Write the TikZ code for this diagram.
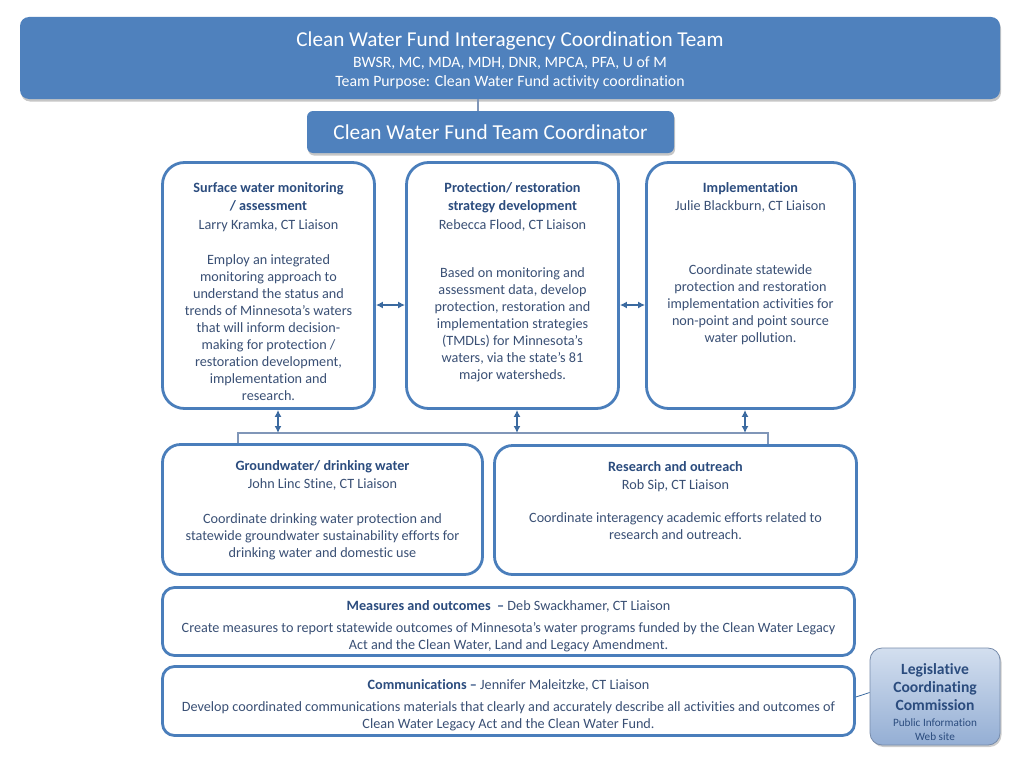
\documentclass[tikz,border=0pt]{standalone}
\usepackage{fontspec}
\setmainfont{Carlito}[Ligatures=NoCommon]
\usetikzlibrary{shadows,arrows.meta}
\definecolor{cwblue}{HTML}{4F81BD}
\definecolor{edgeblue}{HTML}{4A7EBB}
\definecolor{headblue}{HTML}{2B4C7E}
\definecolor{bodyblue}{HTML}{3A5075}
\definecolor{arrowblue}{HTML}{3B6AA0}
\definecolor{linkgray}{HTML}{8096B8}
\definecolor{lcctop}{HTML}{D3DFEF}
\definecolor{lccbot}{HTML}{94AED4}
\newcommand{\paneltitle}[1]{\textcolor{headblue}{\bfseries #1}}
\begin{document}
\begin{tikzpicture}[x=1pt,y=-1pt,
    panel/.style={draw=edgeblue,line width=2.8pt,fill=white,rounded corners=22pt,inner sep=0pt},
    paneltext/.style={anchor=north,align=center,inner sep=0pt,text=bodyblue,font=\fontsize{14.2}{17}\selectfont},
    banner/.style={fill=cwblue,rounded corners=9pt,text=white,align=center,inner sep=0pt,
        drop shadow={shadow xshift=1pt,shadow yshift=-2.5pt,opacity=0.45}},
    twoway/.style={{Latex[length=7pt,width=7pt]}-{Latex[length=7pt,width=7pt]},line width=1.5pt,draw=arrowblue},
    link/.style={draw=linkgray,line width=1.1pt}]

    \useasboundingbox (0,0) rectangle (1024,768);

    \node[banner,minimum width=980,minimum height=82,font=\fontsize{15.8}{19.5}\selectfont] (team) at (510,58)
        {\rule{0pt}{20.5pt}{\fontsize{21.2}{24}\selectfont Clean Water Fund Interagency Coordination Team}\\[1pt]
         BWSR, MC, MDA, MDH, DNR, MPCA, PFA, U of M\\
         Team Purpose: Clean Water Fund activity coordination};
    \node[banner,minimum width=367,minimum height=42,rounded corners=6pt,font=\fontsize{21.3}{24}\selectfont] (coord) at (490.5,132)
        {Clean Water Fund Team Coordinator};

    \node[panel,minimum width=212,minimum height=246] (surf) at (268.5,285.5) {};
    \node[panel,minimum width=212,minimum height=246] (prot) at (512.5,285.5) {};
    \node[panel,minimum width=208,minimum height=246] (impl) at (750.5,285.5) {};
    \node[panel,minimum width=320,minimum height=130,rounded corners=18pt] (ground) at (322.5,509.5) {};
    \node[panel,minimum width=362,minimum height=129,rounded corners=18pt] (research) at (675.5,510) {};
    \node[panel,minimum width=692,minimum height=68,rounded corners=12pt] (measures) at (508.5,621.5) {};
    \node[panel,minimum width=692,minimum height=69,rounded corners=12pt] (comm) at (508.5,701) {};

    \node[paneltext] (surftxt) at ([yshift=-21pt]surf.north)
        {\paneltitle{Surface water monitoring}\\[1.5pt] \paneltitle{/ assessment}\\[1.5pt] Larry Kramka, CT Liaison\\[18pt]
         Employ an integrated\\ monitoring approach to\\ understand the status and\\ trends of Minnesota’s waters\\
         that will inform decision-\\ making for protection /\\ restoration development,\\ implementation and\\ research.};
    \node[paneltext] (prottxt) at ([yshift=-21pt]prot.north)
        {\paneltitle{Protection/ restoration}\\[1.5pt] \paneltitle{strategy development}\\[1.5pt] Rebecca Flood, CT Liaison\\[31pt]
         Based on monitoring and\\ assessment data, develop\\ protection, restoration and\\ implementation strategies\\
         (TMDLs) for Minnesota’s\\ waters, via the state’s 81\\ major watersheds.};
    \node[paneltext] (impltxt) at ([yshift=-21pt]impl.north)
        {\paneltitle{Implementation}\\[1.5pt] Julie Blackburn, CT Liaison\\[47pt]
         Coordinate statewide\\ protection and restoration\\ implementation activities for\\ non-point and point source\\ water pollution.};
    \node[paneltext] (groundtxt) at ([yshift=-17pt]ground.north)
        {\paneltitle{Groundwater/ drinking water}\\[1pt] John Linc Stine, CT Liaison\\[18pt]
         Coordinate drinking water protection and\\ statewide groundwater sustainability efforts for\\ drinking water and domestic use};
    \node[paneltext] (researchtxt) at ([yshift=-17pt]research.north)
        {\paneltitle{Research and outreach}\\[1pt] Rob Sip, CT Liaison\\[16pt]
         Coordinate interagency academic efforts related to\\ research and outreach.};
    \node[paneltext] (measurestxt) at ([yshift=-14pt]measures.north)
        {\paneltitle{Measures and outcomes\ \ --} Deb Swackhamer, CT Liaison\\[5pt]
         Create measures to report statewide outcomes of Minnesota’s water programs funded by the Clean Water Legacy\\
         Act and the Clean Water, Land and Legacy Amendment.};
    \node[paneltext] (commtxt) at ([yshift=-14pt]comm.north)
        {\paneltitle{Communications --} Jennifer Maleitzke, CT Liaison\\[5pt]
         Develop coordinated communications materials that clearly and accurately describe all activities and outcomes of\\
         Clean Water Legacy Act and the Clean Water Fund.};

    \node[draw=lccbot!80!black,line width=0.8pt,top color=lcctop,bottom color=lccbot,rounded corners=12pt,
        minimum width=130,minimum height=97,align=center,inner sep=0pt,text=headblue,font=\fontsize{11.2}{14}\selectfont,
        drop shadow={shadow xshift=1.5pt,shadow yshift=-2pt,opacity=0.4}] (lcc) at (935,696.5)
        {\rule{0pt}{22pt}{\fontsize{15.6}{18}\selectfont\bfseries Legislative}\\[4.5pt]
         {\fontsize{15.6}{18}\selectfont\bfseries Coordinating}\\[4pt]
         {\fontsize{15.6}{18}\selectfont\bfseries Commission}\\[1.5pt]
         Public Information\\ Web site};

    \path ([xshift=-32pt]team.south) coordinate (t1);
    \draw[link] (t1) -- (t1 |- coord.north);

    \draw[twoway] ([yshift=-19.5pt]surf.east) -- ([yshift=-19.5pt]prot.west);
    \draw[twoway] ([yshift=-19.5pt]prot.east) -- ([yshift=-19.5pt]impl.west);

    \coordinate (busL) at (238,433);
    \coordinate (busR) at (768,433);
    \draw[link] (ground.north -| busL) -- (busL) -- (busR) -- (research.north -| busR);

    \path ([xshift=9.5pt]surf.south) coordinate (s1)
          ([xshift=4.5pt]prot.south) coordinate (s2)
          ([xshift=-5.5pt]impl.south) coordinate (s3);
    \draw[twoway] (s1) -- (s1 |- busL);
    \draw[twoway] (s2) -- (s2 |- busL);
    \draw[twoway] (s3) -- (s3 |- busL);

    \draw[link,draw=arrowblue,line width=0.8pt] ([yshift=4pt]comm.east) -- ([yshift=4pt]lcc.west);
\end{tikzpicture}
\end{document}
